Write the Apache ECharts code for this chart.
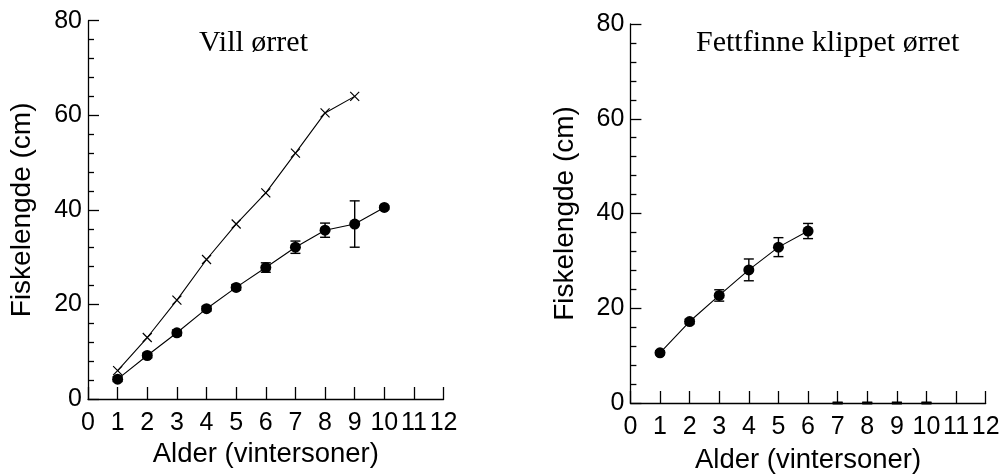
<!DOCTYPE html>
<html>
<head>
<meta charset="utf-8">
<script src="https://cdn.jsdelivr.net/npm/echarts@6/dist/echarts.min.js"></script>
<style>
html,body{margin:0;padding:0;background:#fff;}
#chart{width:1001px;height:475px;}
</style>
</head>
<body>
<div id="chart"></div>
<script>
// ---- data ----
const wildAges = [1, 2, 3, 4, 5, 6, 7, 8, 9, 10];
const wildMean = [4.2, 9.2, 14.0, 19.1, 23.6, 27.8, 32.1, 35.7, 37.0, 40.5];
const wildErr  = [0.5, 0.5, 0.6, 0.5, 0.6, 1.0, 1.3, 1.5, 4.9, 0.3];
const wildMaxAges = [1, 2, 3, 4, 5, 6, 7, 8, 9];
const wildMax  = [6.0, 13.0, 20.9, 29.5, 37.0, 43.6, 52.0, 60.5, 64.0];
const clippedAges = [1, 2, 3, 4, 5, 6];
const clippedMean = [10.6, 17.2, 22.7, 28.1, 32.9, 36.3];
const clippedErr  = [0.4, 0.5, 1.2, 2.3, 2.0, 1.6];
const clippedZeroAges = [7, 8, 9, 10];
const xTicks = [0, 1, 2, 3, 4, 5, 6, 7, 8, 9, 10, 11, 12];
const yTicks = [0, 20, 40, 60, 80];
const titles = ['Vill ørret', 'Fettfinne klippet ørret'];
const xName = 'Alder (vintersoner)';
const yName = 'Fiskelengde (cm)';

const SANS = 'Liberation Sans, Arial, sans-serif';
const SERIF = 'Liberation Serif, Times New Roman, serif';

function pairs(xs, ys) { return xs.map((x, i) => [x, ys[i]]); }
function errData(xs, m, e) { return xs.map((x, i) => [x, m[i] - e[i], m[i] + e[i]]); }

function makeErrorRender(lw) {
  return function (params, api) {
    const x = api.value(0);
    const lo = api.coord([x, api.value(1)]);
    const hi = api.coord([x, api.value(2)]);
    const hw = 5;
    const style = { stroke: '#000', lineWidth: lw, fill: null };
    return {
      type: 'group',
      children: [
        { type: 'line', shape: { x1: lo[0], y1: lo[1], x2: hi[0], y2: hi[1] }, style: style },
        { type: 'line', shape: { x1: lo[0] - hw, y1: lo[1], x2: lo[0] + hw, y2: lo[1] }, style: style },
        { type: 'line', shape: { x1: hi[0] - hw, y1: hi[1], x2: hi[0] + hw, y2: hi[1] }, style: style }
      ]
    };
  };
}

function xAxis(idx, gap) {
  return {
    type: 'value', gridIndex: idx, min: 0, max: 12, interval: 1,
    name: xName, nameLocation: 'middle', nameGap: gap,
    nameTextStyle: { fontFamily: SANS, fontSize: 27.5, color: '#000' },
    axisLine: { show: true, onZero: false, lineStyle: { color: '#000', width: 1.3 } },
    axisTick: { show: true, inside: true, length: 12, lineStyle: { color: '#000', width: 1.3 } },
    axisLabel: { fontFamily: SANS, fontSize: 25, color: '#000', margin: 12, hideOverlap: false,
      formatter: v => xTicks.indexOf(v) >= 0 ? String(v) : '' },
    splitLine: { show: false }
  };
}
function yAxis(idx, gap) {
  return {
    type: 'value', gridIndex: idx, min: 0, max: 80, interval: 20,
    name: yName, nameLocation: 'middle', nameGap: gap, nameRotate: 90,
    nameTextStyle: { fontFamily: SANS, fontSize: 28, color: '#000' },
    axisLine: { show: true, lineStyle: { color: '#000', width: 1.3 } },
    axisTick: { show: true, inside: true, length: 11, lineStyle: { color: '#000', width: 1.3 } },
    minorTick: { show: true, splitNumber: 5, length: 6, lineStyle: { color: '#000', width: 1.3 } },
    axisLabel: { fontFamily: SANS, fontSize: 25, color: '#000', margin: 6,
      formatter: v => yTicks.indexOf(v) >= 0 ? String(v) : '' },
    splitLine: { show: false }
  };
}

const crossPath = 'path://M0,0L10,10M10,0L0,10';

const option = {
  backgroundColor: '#fff',
  animation: false,
  title: [
    { text: titles[0], left: 194, top: 23, textStyle: { fontFamily: SERIF, fontSize: 30, fontWeight: 'normal', color: '#000' } },
    { text: titles[1], left: 691, top: 23, textStyle: { fontFamily: SERIF, fontSize: 30, fontWeight: 'normal', color: '#000' } }
  ],
  grid: [
    { left: 88, top: 20.7, width: 355.6, height: 378.3, containLabel: false, outerBoundsMode: 'none' },
    { left: 630.4, top: 24, width: 355.3, height: 379, containLabel: false, outerBoundsMode: 'none' }
  ],
  xAxis: [xAxis(0, 41), xAxis(1, 43.5)],
  yAxis: [yAxis(0, 52), yAxis(1, 51)],
  series: [
    {
      type: 'line', xAxisIndex: 0, yAxisIndex: 0, data: pairs(wildMaxAges, wildMax),
      symbol: crossPath, symbolSize: 9, showSymbol: true,
      lineStyle: { color: '#000', width: 1.1 },
      itemStyle: { color: 'none', borderColor: '#000', borderWidth: 1.2 },
      z: 3
    },
    {
      type: 'custom', xAxisIndex: 0, yAxisIndex: 0, data: errData(wildAges, wildMean, wildErr),
      renderItem: makeErrorRender(1.4), z: 2
    },
    {
      type: 'line', xAxisIndex: 0, yAxisIndex: 0, data: pairs(wildAges, wildMean),
      symbol: 'circle', symbolSize: 11,
      lineStyle: { color: '#000', width: 1.1 },
      itemStyle: { color: '#000' }, z: 4
    },
    {
      type: 'custom', xAxisIndex: 1, yAxisIndex: 1, data: errData(clippedAges, clippedMean, clippedErr),
      renderItem: makeErrorRender(1.4), z: 2
    },
    {
      type: 'custom', xAxisIndex: 1, yAxisIndex: 1,
      data: errData(clippedZeroAges, clippedZeroAges.map(() => 0), clippedZeroAges.map(() => 0)),
      renderItem: makeErrorRender(2.6), z: 2
    },
    {
      type: 'line', xAxisIndex: 1, yAxisIndex: 1, data: pairs(clippedAges, clippedMean),
      symbol: 'circle', symbolSize: 11,
      lineStyle: { color: '#000', width: 1.1 },
      itemStyle: { color: '#000' }, z: 4
    }
  ]
};

const chart = echarts.init(document.getElementById('chart'), null, { renderer: 'canvas' });
chart.setOption(option);
</script>
</body>
</html>
